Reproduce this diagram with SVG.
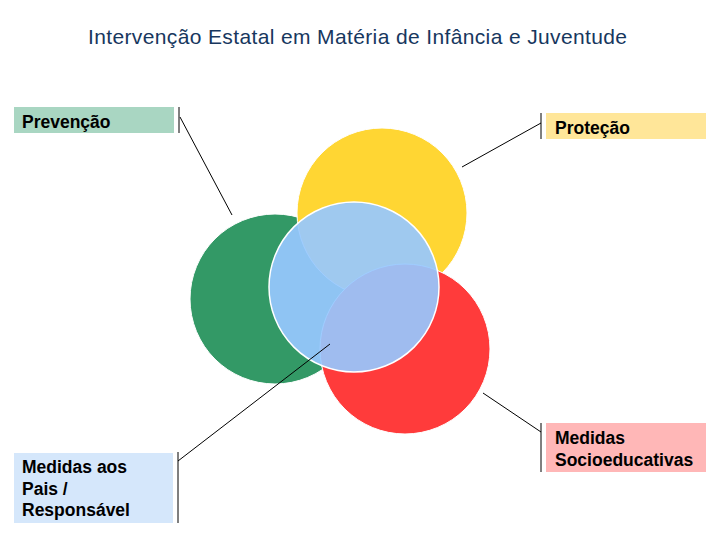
<svg xmlns="http://www.w3.org/2000/svg" width="720" height="540" viewBox="0 0 720 540">
<style>
.title{font-family:"Liberation Sans",Arial,sans-serif;font-size:21px;fill:#17375E}
.lbl{font-family:"Liberation Sans",Arial,sans-serif;font-size:17.5px;font-weight:bold;fill:#000}
.conn{stroke:#000;stroke-width:1;fill:none}
.circ{stroke:#fff;stroke-width:1}
</style>
<rect width="720" height="540" fill="#fff"/>
<text class="title" x="88" y="44" textLength="539" lengthAdjust="spacing">Intervenção Estatal em Matéria de Infância e Juventude</text>
<g id="circles">
<circle id="c-green" class="circ" cx="275" cy="299" r="85" fill="#339966"/>
<circle id="c-yellow" class="circ" cx="382" cy="213" r="85" fill="#FFD633"/>
<circle id="c-red" class="circ" cx="405" cy="349" r="85" fill="#FF3B3B"/>
<circle id="c-blue" cx="354" cy="287" r="85" fill="#97C8FF" fill-opacity="0.92" stroke="#fff" stroke-width="1.5"/>
</g>
<g id="connectors">
<line class="conn" x1="179" y1="107" x2="179" y2="133"/>
<line class="conn" x1="180" y1="117" x2="232" y2="215"/>
<line class="conn" x1="541" y1="113" x2="541" y2="139"/>
<line class="conn" x1="541" y1="123" x2="462" y2="167"/>
<line class="conn" x1="541" y1="423" x2="541" y2="472"/>
<line class="conn" x1="541" y1="432" x2="483" y2="393"/>
<line class="conn" x1="178" y1="452" x2="178" y2="523"/>
<line class="conn" x1="178" y1="461" x2="330" y2="344"/>
</g>
<g id="prevencao">
<rect x="14" y="107" width="160" height="26" fill="#A9D6C2"/>
<text class="lbl" x="22" y="128">Prevenção</text>
</g>
<g id="protecao">
<rect x="546" y="113" width="160" height="26" fill="#FFE699"/>
<text class="lbl" x="555" y="134">Proteção</text>
</g>
<g id="socioeducativas">
<rect x="546" y="423" width="160" height="49" fill="#FFB7B7"/>
<text class="lbl" x="555" y="444">Medidas</text>
<text class="lbl" x="555" y="466">Socioeducativas</text>
</g>
<g id="medidas-pais">
<rect x="14" y="453" width="159" height="70" fill="#D5E7FB"/>
<text class="lbl" x="22" y="473">Medidas aos</text>
<text class="lbl" x="22" y="495">Pais /</text>
<text class="lbl" x="22" y="516">Responsável</text>
</g>
</svg>
